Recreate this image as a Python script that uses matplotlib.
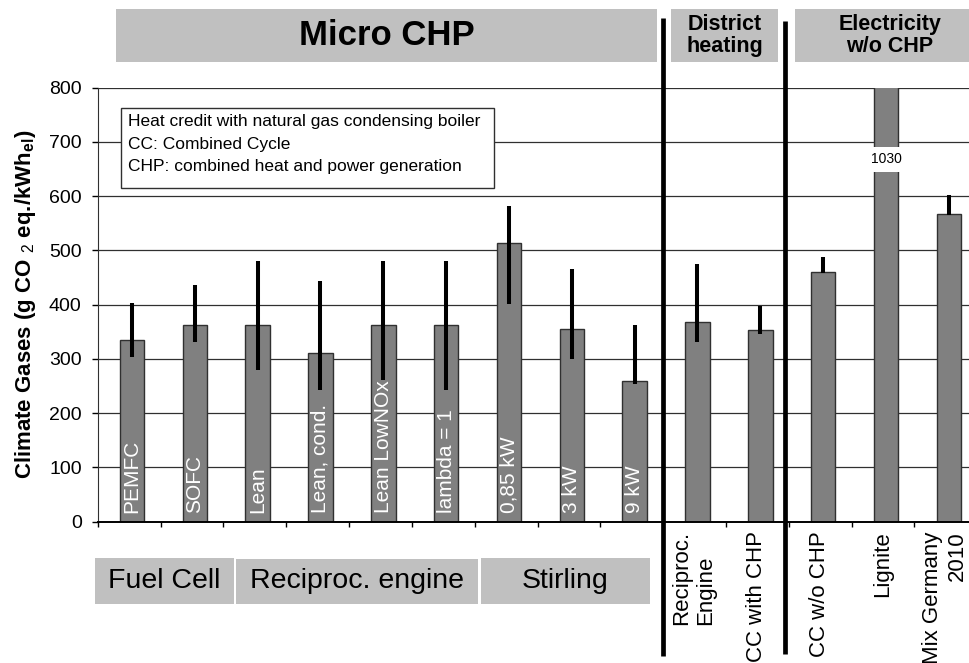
import numpy as np
import matplotlib
matplotlib.use('Agg')
import matplotlib.pyplot as plt
from matplotlib.patches import Rectangle
from matplotlib.transforms import blended_transform_factory

plt.rcParams['font.family'] = ['Liberation Sans', 'DejaVu Sans']
plt.rcParams['mathtext.fontset'] = 'custom'
plt.rcParams['mathtext.rm'] = 'Liberation Sans'
plt.rcParams['mathtext.bf'] = 'Liberation Sans:bold'

# data
inner_labels = ['PEMFC', 'SOFC', 'Lean', 'Lean, cond.', 'Lean LowNOx', 'lambda = 1',
                '0,85 kW', '3 kW', '9 kW']
outer_labels = ['Reciproc.\nEngine', 'CC with CHP', 'CC w/o CHP', 'Lignite', 'Mix Germany\n2010']
values = [335, 362, 362, 311, 362, 362, 513, 356, 259, 369, 353, 461, 1030, 567]
err_lo = [304, 331, 279, 242, 262, 242, 401, 300, 254, 331, 346, 459, None, 565]
err_hi = [404, 436, 480, 443, 480, 480, 582, 465, 362, 475, 398, 488, None, 603]
yticks = [0, 100, 200, 300, 400, 500, 600, 700, 800]

W, H = 970, 663
fig = plt.figure(figsize=(W / 100, H / 100), dpi=100)

def fx(x):
    return x / W

def fy(y):
    return 1 - y / H

ax = fig.add_axes([fx(97.7), fy(521.7), fx(977.3) - fx(97.7), fy(87.7) - fy(521.7)])

x = np.arange(len(values))
ax.bar(x, values, width=0.39, color='#808080', edgecolor='#303030', linewidth=1, zorder=2)
for xi, lo, hi in zip(x, err_lo, err_hi):
    if lo is not None:
        ax.vlines(xi, lo, hi, color='black', linewidth=2.9, zorder=3)

ax.set_xlim(-0.546, 13.454)
ax.set_ylim(0, 800)
ax.set_yticks(yticks)
ax.set_xticks(np.arange(15) - 0.546)
ax.set_xticklabels([])
ax.tick_params(axis='y', labelsize=14, length=4.5, width=1, pad=7)
ax.tick_params(axis='x', length=3.8, width=1, direction='out')
ax.yaxis.grid(True, color='#303030', linewidth=0.9, zorder=0)
ax.set_axisbelow(True)
for s in ['top', 'right']:
    ax.spines[s].set_visible(False)
ax.spines['left'].set_color('#303030')
ax.spines['bottom'].set_linewidth(1.4)
ax.set_ylabel(r'Climate Gases (g CO $_2$ eq./kWh$_{\mathbf{el}}$)', fontsize=16,
              fontweight='bold', labelpad=8)

# labels inside the bars
for xi, lab in zip(x, inner_labels):
    ax.text(xi, 16, lab, rotation=90, ha='center', va='bottom', color='white', fontsize=15)

# labels below the axis
tr = blended_transform_factory(ax.transData, ax.transAxes)
aligns = ['left', 'left', 'left', 'left', 'right']
for xi, lab, al in zip(x[9:], outer_labels, aligns):
    ax.text(xi - 0.06, -0.022, lab, transform=tr, rotation=90, ha='center', va='top',
            fontsize=16, multialignment=al)

# Lignite value label
ax.text(12, 668, '1030', ha='center', va='center', fontsize=10, zorder=4,
        bbox=dict(facecolor='white', edgecolor='none', pad=4))

# separators
for sx, top, bot in [(8.454, 1.16, -0.309), (10.4, 1.154, -0.305)]:
    ax.plot([sx, sx], [top, bot], transform=tr, color='black', linewidth=3.4,
            solid_capstyle='butt', clip_on=False, zorder=5)

# group boxes
def box(x0, x1, y0, y1, text, size, bold):
    fig.patches.append(Rectangle((fx(x0), fy(y1)), fx(x1) - fx(x0), fy(y0) - fy(y1),
                                 transform=fig.transFigure, facecolor='#c0c0c0',
                                 edgecolor='none'))
    fig.text(fx((x0 + x1) / 2), fy((y0 + y1) / 2), text, ha='center', va='center',
             fontsize=size, fontweight='bold' if bold else 'normal', linespacing=1.1)

box(116, 657, 9, 62, 'Micro CHP', 25, True)
box(671, 778, 9, 62, 'District\nheating', 15.5, True)
box(795, 985, 9, 62, 'Electricity\nw/o CHP', 15.5, True)
box(95, 234, 558, 604, 'Fuel Cell', 20.5, False)
box(236, 478, 559, 604, 'Reciproc. engine', 20.5, False)
box(481, 650, 558, 604, 'Stirling', 20.5, False)

# note box
fig.patches.append(Rectangle((fx(120.7), fy(187.7)), fx(494) - fx(120.7), fy(107.7) - fy(187.7),
                             transform=fig.transFigure, facecolor='white',
                             edgecolor='#303030', linewidth=1))
notes = ['Heat credit with natural gas condensing boiler', 'CC: Combined Cycle',
         'CHP: combined heat and power generation']
for i, t in enumerate(notes):
    fig.text(fx(128), fy(121.7 + 22.5 * i), t, ha='left', va='center', fontsize=12.5)

fig.savefig('out.png', dpi=100)
